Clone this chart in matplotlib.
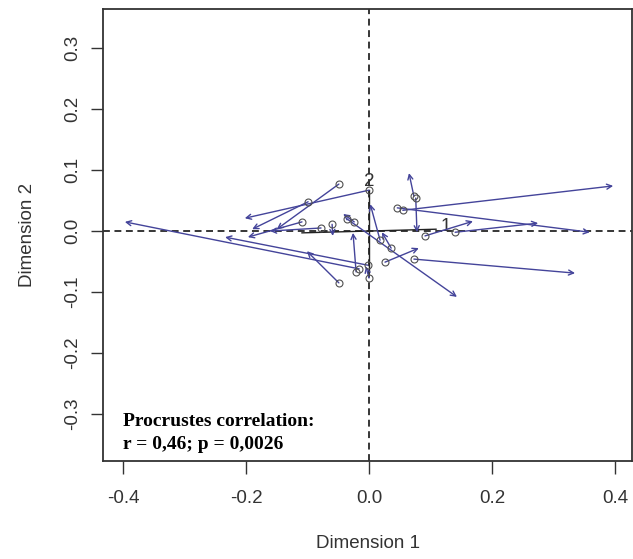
import matplotlib
matplotlib.use("Agg")
import matplotlib.pyplot as plt

# Procrustes rotation: rotated configuration (circles) -> target configuration (arrow heads)
tail_x = [0.000, -0.049, -0.099, -0.109, -0.078, -0.060, -0.036, -0.024, -0.016, -0.002,
          -0.049, -0.021, 0.000, 0.018, 0.036, 0.026, 0.073, 0.076, 0.046, 0.055,
          0.073, 0.091, 0.140]
tail_y = [0.067, 0.077, 0.048, 0.015, 0.005, 0.011, 0.020, 0.015, -0.062, -0.056,
          -0.085, -0.067, -0.077, -0.015, -0.028, -0.051, 0.057, 0.054, 0.038, 0.034,
          -0.046, -0.008, -0.002]
head_x = [-0.202, -0.150, -0.190, -0.197, -0.161, -0.059, 0.143, -0.042, -0.397, -0.234,
          -0.101, -0.026, -0.005, 0.002, 0.021, 0.081, 0.065, 0.078, 0.359, 0.397,
          0.335, 0.169, 0.275]
head_y = [0.021, 0.003, 0.003, -0.010, 0.000, -0.008, -0.108, 0.028, 0.015, -0.010,
          -0.033, -0.003, -0.058, 0.044, -0.002, -0.028, 0.095, -0.002, -0.002, 0.074,
          -0.069, 0.016, 0.013]

# rotated axes of the solution
axis1_x = [-0.109, 0.109]
axis1_y = [-0.003, 0.003]
axis2_x = [0.0, 0.0]
axis2_y = [-0.067, 0.067]

x_ticks = [-0.4, -0.2, 0.0, 0.2, 0.4]
x_ticklabels = ["-0.4", "-0.2", "0.0", "0.2", "0.4"]
y_ticks = [-0.3, -0.2, -0.1, 0.0, 0.1, 0.2, 0.3]
y_ticklabels = ["-0.3", "-0.2", "-0.1", "0.0", "0.1", "0.2", "0.3"]

plt.rcParams["font.family"] = ["Liberation Sans", "DejaVu Sans"]

fig = plt.figure(figsize=(6.33, 5.59), dpi=100)
ax = fig.add_axes([103 / 633, 98 / 559, 529 / 633, 452 / 559])
ax.set_xlim(-0.4325, 0.4276)
ax.set_ylim(-0.377, 0.364)

dash = (0, (4.5, 3))
ax.axhline(0, color="black", lw=1.1, ls=dash, zorder=1)
ax.axvline(0, color="black", lw=1.1, ls=dash, zorder=1)

ax.plot(axis1_x, axis1_y, color="#222222", lw=1.0, zorder=2)
ax.plot(axis2_x, axis2_y, color="#222222", lw=1.0, zorder=2)
ax.text(axis1_x[1] + 0.016, axis1_y[1] + 0.004, "1", fontsize=13.5,
        ha="center", va="center", color="#333333")
ax.text(axis2_x[1], axis2_y[1] + 0.014, "2", fontsize=13.5,
        ha="center", va="center", color="#333333")

for tx, ty, hx, hy in zip(tail_x, tail_y, head_x, head_y):
    ax.annotate("", xy=(hx, hy), xytext=(tx, ty),
                arrowprops=dict(arrowstyle="->", color="#44449a", lw=1.0,
                                shrinkA=0, shrinkB=0, mutation_scale=9),
                zorder=3)

ax.plot(tail_x, tail_y, "o", mfc="none", mec="#505050", ms=5, mew=0.8, zorder=4)

ax.set_xticks(x_ticks)
ax.set_xticklabels(x_ticklabels)
ax.set_yticks(y_ticks)
ax.set_yticklabels(y_ticklabels, rotation=90, va="center")
ax.tick_params(axis="both", direction="out", length=9, width=1.0,
               labelsize=13.5, colors="#333333")
ax.tick_params(axis="x", pad=12)
ax.tick_params(axis="y", pad=7)

for s in ax.spines.values():
    s.set_linewidth(1.3)
    s.set_color("#333333")

ax.set_xlabel("Dimension 1", fontsize=13.5, color="#333333", labelpad=20)
ax.set_ylabel("Dimension 2", fontsize=13.5, color="#333333", labelpad=20)

ax.text(-0.400, -0.320, "Procrustes correlation:", family="Liberation Serif",
        weight="bold", fontsize=14, va="baseline", ha="left")
ax.text(-0.400, -0.358, "r = 0,46; p = 0,0026", family="Liberation Serif",
        weight="bold", fontsize=14, va="baseline", ha="left")

fig.savefig("out.png", dpi=100)
